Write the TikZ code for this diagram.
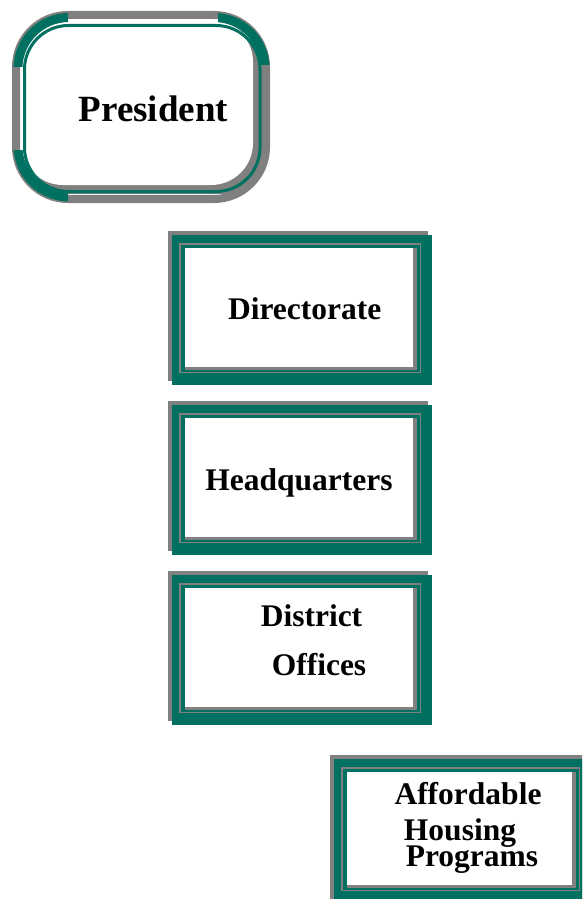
\documentclass[tikz,border=0pt]{standalone}
\usepackage{fontspec}
\setmainfont{Liberation Serif}
\usepackage{tikz}
\usetikzlibrary{positioning}

\definecolor{hgreen}{RGB}{0,112,96}
\definecolor{hgray}{RGB}{128,128,128}

% framed box round a white area from (#1,#2) to (#3,#4)
\newcommand{\unitframe}[4]{%
  \fill[hgray] (#1-17,#2-17) rectangle (#3+15,#4+14);
  \fill[hgreen] (#1-13,#2-13) rectangle (#3+19,#4+18);
  \fill[hgray] (#1-6,#2-5) rectangle (#3+8,#4+6);
  \fill[hgreen] (#1-4.5,#2-3.5) rectangle (#3+7,#4+5);
  \fill[hgray] (#1,#2) rectangle (#3+4,#4+3);
  \fill[white] (#1,#2) rectangle (#3,#4);
}

\tikzset{
  boxtext/.style={font=\fontsize{31.5}{34}\selectfont\bfseries, inner sep=0pt, anchor=base, align=center},
  toptext/.style={font=\fontsize{37}{40}\selectfont\bfseries, inner sep=0pt, anchor=base},
  cornerarc/.style={hgreen, line width=9pt, rounded corners=51pt}
}

\begin{document}
\begin{tikzpicture}[x=1pt,y=-1pt]
  \useasboundingbox (0,0) rectangle (582,899);
  \clip (0,0) rectangle (582,899);

  % president
  \draw[hgray, line width=8pt, rounded corners=52pt] (16,15) rectangle (266,199);
  \fill[hgray, rounded corners=40pt] (30,30) rectangle (262,194);
  \fill[white, rounded corners=42pt] (21,20) rectangle (253,185);
  \draw[hgreen, line width=3pt, rounded corners=44pt] (24.5,25.5) rectangle (260,191.5);
  \begin{scope}
    \clip (0,0) rectangle (68,67);
    \draw[cornerarc] (18,17.5) rectangle (265,197);
  \end{scope}
  \begin{scope}
    \clip (218,0) rectangle (290,65);
    \draw[cornerarc] (18,17.5) rectangle (265,197);
  \end{scope}
  \begin{scope}
    \clip (0,150) rectangle (68,210);
    \draw[cornerarc] (18,17.5) rectangle (265,197);
  \end{scope}
  \node[toptext] (pres) at (153.4,121.7) {President};

  % the four offices
  \unitframe{185}{248}{413}{367}
  \node[boxtext] (dir) at (304.7,319.3) {Directorate};

  \unitframe{185}{418}{413}{537}
  \node[boxtext] (hq) at (299,490) {Headquarters};

  \unitframe{185}{588}{413}{707}
  \node[boxtext] (dist) at (311.5,675) {District\\[14.3pt]\hspace*{15pt}Offices};

  \unitframe{347}{772}{572}{885}
  \node[boxtext] (ahp) at (468,866.7) {Affordable\\[1.7pt]\hspace*{-16pt}Housing\\[-7.3pt]\hspace*{8pt}Programs};
\end{tikzpicture}
\end{document}
